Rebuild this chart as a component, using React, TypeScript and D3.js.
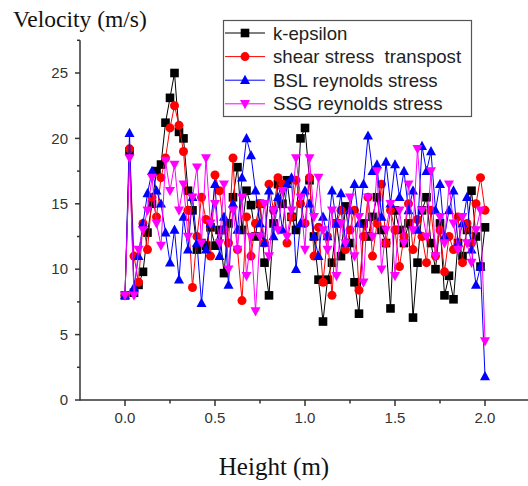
import React from "react";
import * as d3 from "d3";

const heights = [
  0, 0.025, 0.05, 0.075, 0.1, 0.125, 0.15, 0.175, 0.2, 0.225,
  0.25, 0.275, 0.3, 0.325, 0.35, 0.375, 0.4, 0.425, 0.45, 0.475,
  0.5, 0.525, 0.55, 0.575, 0.6, 0.625, 0.65, 0.675, 0.7, 0.725,
  0.75, 0.775, 0.8, 0.825, 0.85, 0.875, 0.9, 0.925, 0.95, 0.975,
  1.0, 1.025, 1.05, 1.075, 1.1, 1.125, 1.15, 1.175, 1.2, 1.225,
  1.25, 1.275, 1.3, 1.325, 1.35, 1.375, 1.4, 1.425, 1.45, 1.475,
  1.5, 1.525, 1.55, 1.575, 1.6, 1.625, 1.65, 1.675, 1.7, 1.725,
  1.75, 1.775, 1.8, 1.825, 1.85, 1.875, 1.9, 1.925, 1.95, 1.975, 2.0,
];

const kEpsilon = [
  8.0, 19.0, 8.2, 8.8, 9.8, 12.8, 15.0, 17.5, 18.0, 21.2,
  23.1, 25.0, 20.5, 20.0, 16.0, 14.5, 11.5, 12.0, 11.8, 13.2,
  11.8, 13.0, 9.7, 13.5, 15.5, 17.8, 13.0, 16.0, 14.9, 12.5,
  15.0, 10.5, 8.0, 13.5, 16.5, 15.0, 16.8, 14.0, 13.0, 20.0,
  20.8, 16.8, 12.5, 9.2, 6.0, 9.2, 10.5, 13.5, 11.0, 14.8,
  12.0, 9.0, 6.6, 13.5, 12.5, 14.0, 15.5, 13.0, 12.0, 7.0,
  14.5, 13.0, 12.0, 13.5, 6.3, 10.5, 14.5, 15.5, 12.0, 10.0,
  13.5, 8.0, 9.5, 7.7, 12.0, 11.0, 13.0, 16.0, 12.5, 10.2, 13.2,
];

const shearStress = [
  8.0, 19.2, 11.0, 9.0, 13.5, 11.5, 15.5, 14.0, 17.0, 18.5,
  20.8, 22.5, 21.0, 19.0, 14.5, 8.6, 12.5, 15.5, 13.8, 11.0,
  17.2, 16.0, 13.0, 12.0, 18.5, 11.5, 7.6, 14.0, 11.0, 13.5,
  15.0, 12.0, 16.5, 14.5, 17.0, 16.5, 12.0, 14.0, 16.8, 15.0,
  13.5, 17.0, 11.0, 13.2, 9.0, 12.5, 8.0, 13.5, 14.5, 11.5,
  13.0, 14.5, 8.4, 12.5, 15.5, 11.0, 13.5, 16.5, 12.0, 14.5,
  13.0, 10.2, 12.5, 15.0, 11.5, 13.8, 12.5, 10.5, 14.5, 11.0,
  13.0, 9.8, 12.5, 11.5, 14.0, 10.5, 13.5, 12.0, 15.0, 17.0, 14.5,
];

const bslStress = [
  8.0, 20.4, 8.6, 11.0, 13.5, 15.8, 17.5, 16.0, 15.0, 12.8,
  10.5, 13.0, 9.2, 14.0, 11.5, 15.5, 12.0, 7.4, 11.5, 13.5,
  16.5, 11.0, 14.0, 8.8, 15.0, 13.0, 17.0, 20.0, 18.7, 16.0,
  13.5, 12.0, 16.0, 12.5, 15.5, 13.0, 16.5, 17.0, 10.0, 13.5,
  16.0, 15.0, 12.5, 11.0, 14.0, 12.5, 16.0, 13.5, 15.8, 12.0,
  14.5, 16.5, 13.5, 16.5, 20.2, 17.5, 18.0, 14.0, 18.2, 15.0,
  18.0, 15.5, 17.5, 14.5, 16.0, 13.0, 19.4, 17.5, 19.0, 14.5,
  16.5, 12.5, 14.5, 16.0, 12.0, 13.5, 15.5, 11.5, 8.8, 10.2, 1.8,
];

const ssgStress = [
  8.0, 18.5, 8.0, 11.5, 13.0, 14.5, 17.0, 13.5, 11.8, 18.3,
  16.0, 18.0, 14.5, 16.5, 12.5, 15.5, 17.8, 12.0, 18.5, 13.5,
  15.0, 12.0, 16.5, 10.0, 14.5, 11.5, 15.5, 9.5, 12.5, 6.8,
  12.5, 15.0, 11.0, 14.5, 13.0, 16.0, 12.5, 14.5, 18.5, 15.5,
  11.5, 18.5, 14.0, 17.0, 13.0, 11.5, 14.5, 9.5, 13.5, 12.0,
  15.5, 11.0, 14.0, 9.0, 15.5, 12.5, 17.5, 10.0, 13.0, 15.0,
  9.5, 14.5, 12.0, 16.5, 13.0, 19.2, 14.5, 12.5, 17.5, 11.0,
  14.0, 12.0, 16.5, 13.5, 11.5, 14.0, 12.0, 10.5, 13.0, 14.5, 4.5,
];

const seriesNames = [
  "k-epsilon",
  "shear stress  transpost",
  "BSL reynolds stress",
  "SSG reynolds stress",
];
const seriesColors = ["#000000", "#ff0000", "#0000ff", "#ff00ff"];
const seriesMarkers = ["square", "circle", "triangleUp", "triangleDown"];
const seriesValues = [kEpsilon, shearStress, bslStress, ssgStress];

const xMajorTicks = [0, 0.5, 1.0, 1.5, 2.0];
const xMinorTicks = [0.25, 0.75, 1.25, 1.75];
const yMajorTicks = [0, 5, 10, 15, 20, 25];
const yMinorTicks = [2.5, 7.5, 12.5, 17.5, 22.5, 27.5];

function Marker({ type, x, y, color }: { type: string; x: number; y: number; color: string }) {
  if (type === "square") {
    return <rect x={x - 4.3} y={y - 4.3} width={8.6} height={8.6} fill={color} />;
  }
  if (type === "circle") {
    return <circle cx={x} cy={y} r={4.5} fill={color} />;
  }
  if (type === "triangleUp") {
    return <path d={`M${x},${y - 5.4} L${x + 5},${y + 3.8} L${x - 5},${y + 3.8} Z`} fill={color} />;
  }
  return <path d={`M${x},${y + 5.4} L${x + 5},${y - 3.8} L${x - 5},${y - 3.8} Z`} fill={color} />;
}

export default function App() {
  const W = 528;
  const H = 486;
  const x = d3.scaleLinear().domain([-0.25, 2.25]).range([80, 530]);
  const y = d3.scaleLinear().domain([0, 27.5]).range([400, 40.3]);
  const axisColor = "#333";
  const line = d3
    .line<[number, number]>()
    .x((d) => x(d[0]))
    .y((d) => y(d[1]));

  return (
    <svg
      width={W}
      height={H}
      style={{ position: "absolute", left: 0, top: 0, background: "#fff" }}
    >
      <rect x={0} y={0} width={W} height={H} fill="#fff" />
      {seriesValues.map((vals, si) => {
        const pts: [number, number][] = heights.map((h, i) => [h, vals[i]]);
        return (
          <g key={si}>
            <path d={line(pts) || ""} fill="none" stroke={seriesColors[si]} strokeWidth={1} />
            {pts.map((p, i) => (
              <Marker key={i} type={seriesMarkers[si]} x={x(p[0])} y={y(p[1])} color={seriesColors[si]} />
            ))}
          </g>
        );
      })}
      <g fontFamily="'Liberation Sans', Arial, sans-serif" fontSize={15} fill={axisColor}>
        <line x1={x(-0.25)} x2={x(-0.25)} y1={y(0) + 0.5} y2={y(27.5)} stroke={axisColor} strokeWidth={1.5} />
        <line x1={x(-0.25)} x2={W} y1={y(0)} y2={y(0)} stroke={axisColor} strokeWidth={1.5} />
        {yMajorTicks.map((t) => (
          <g key={"ym" + t}>
            <line x1={x(-0.25) - 5} x2={x(-0.25)} y1={y(t)} y2={y(t)} stroke={axisColor} strokeWidth={1.5} />
            <text x={x(-0.25) - 12} y={y(t)} dy="0.35em" textAnchor="end">
              {d3.format("d")(t)}
            </text>
          </g>
        ))}
        {yMinorTicks.map((t) => (
          <line key={"yn" + t} x1={x(-0.25) - 3} x2={x(-0.25)} y1={y(t)} y2={y(t)} stroke={axisColor} strokeWidth={1.5} />
        ))}
        {xMajorTicks.map((t) => (
          <g key={"xm" + t}>
            <line x1={x(t)} x2={x(t)} y1={y(0)} y2={y(0) + 6} stroke={axisColor} strokeWidth={1.5} />
            <text x={x(t)} y={y(0) + 23} textAnchor="middle">
              {d3.format(".1f")(t)}
            </text>
          </g>
        ))}
        {xMinorTicks.map((t) => (
          <line key={"xn" + t} x1={x(t)} x2={x(t)} y1={y(0)} y2={y(0) + 3.5} stroke={axisColor} strokeWidth={1.5} />
        ))}
      </g>
      <text x={13} y={27} fontFamily="'Liberation Serif', 'Times New Roman', serif" fontSize={23.5} fill="#111">
        Velocity (m/s)
      </text>
      <text x={274} y={475} textAnchor="middle" fontFamily="'Liberation Serif', 'Times New Roman', serif" fontSize={25} fill="#111">
        Height (m)
      </text>
      <g fontFamily="'Liberation Sans', Arial, sans-serif" fontSize={18.6} fill="#222">
        <rect x={223.5} y={20.5} width={248} height={96} fill="#fff" stroke="#555" strokeWidth={1.2} />
        {seriesNames.map((name, i) => {
          const ly = 33 + i * 23.6;
          return (
            <g key={name}>
              <line x1={225} x2={265} y1={ly} y2={ly} stroke={seriesColors[i]} strokeWidth={1} />
              <Marker type={seriesMarkers[i]} x={245} y={ly} color={seriesColors[i]} />
              <text x={273} y={ly} dy="0.35em" style={{ whiteSpace: "pre" }}>
                {name}
              </text>
            </g>
          );
        })}
      </g>
    </svg>
  );
}
